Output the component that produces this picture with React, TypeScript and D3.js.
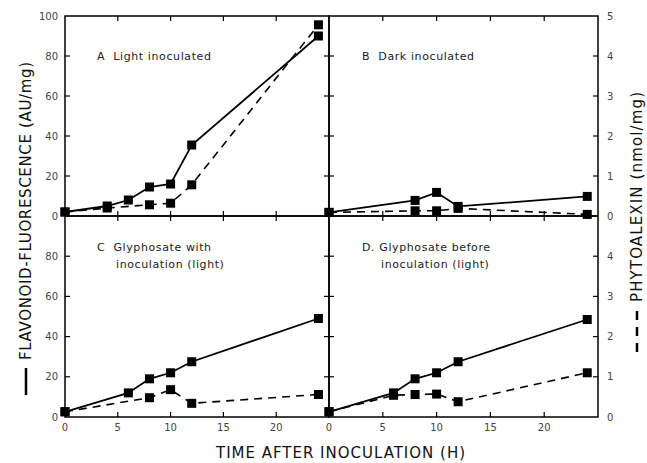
import * as d3 from 'd3';

// hours after inoculation, flavonoid fluorescence (AU/mg), phytoalexin (nmol/mg)
const hoursA = [0, 4, 6, 8, 10, 12, 24];
const flavA = [2, 5, 8, 14.5, 16, 35.5, 90];
const phytoHoursA = [0, 4, 8, 10, 12, 24];
const phytoA = [0.1, 0.2, 0.28, 0.32, 0.78, 4.78];

const hoursB = [0, 8, 10, 12, 24];
const flavB = [1.8, 7.8, 11.8, 4.8, 9.8];
const phytoHoursB = [0, 8, 10, 12, 24];
const phytoB = [0.09, 0.13, 0.13, 0.19, 0.04];

const hoursC = [0, 6, 8, 10, 12, 24];
const flavC = [2.6, 12, 19, 22, 27.5, 49];
const phytoHoursC = [0, 8, 10, 12, 24];
const phytoC = [0.13, 0.48, 0.68, 0.34, 0.56];

const hoursD = [0, 6, 8, 10, 12, 24];
const flavD = [2.6, 12, 19, 22, 27.5, 48.5];
const phytoHoursD = [0, 6, 8, 10, 12, 24];
const phytoD = [0.13, 0.54, 0.56, 0.57, 0.38, 1.1];

const xTicks = [0, 5, 10, 15, 20, 25];
const xTickLabels = ['0', '5', '10', '15', '20'];
const leftTicks = [0, 20, 40, 60, 80, 100];
const rightTicks = [0, 1, 2, 3, 4, 5];

const panels = [
  { id: 'A', col: 0, row: 0, label: ['A  Light inoculated'], h: hoursA, f: flavA, ph: phytoHoursA, p: phytoA },
  { id: 'B', col: 1, row: 0, label: ['B  Dark inoculated'], h: hoursB, f: flavB, ph: phytoHoursB, p: phytoB },
  { id: 'C', col: 0, row: 1, label: ['C  Glyphosate with', 'inoculation (light)'], h: hoursC, f: flavC, ph: phytoHoursC, p: phytoC },
  { id: 'D', col: 1, row: 1, label: ['D. Glyphosate before', 'inoculation (light)'], h: hoursD, f: flavD, ph: phytoHoursD, p: phytoD },
];

const colX = [[65, 329], [329, 598]];
const rowY = [[216, 16], [417, 216]];
const font = '"DejaVu Sans", "Liberation Sans", sans-serif';

function Panel({ panel }) {
  const x = d3.scaleLinear().domain([0, 25]).range(colX[panel.col]);
  const y = d3.scaleLinear().domain([0, 100]).range(rowY[panel.row]);
  const y2 = d3.scaleLinear().domain([0, 5]).range(rowY[panel.row]);
  const solid = d3.line<number>().x((d, i) => x(panel.h[i])).y(d => y(d))(panel.f);
  const dashed = d3.line<number>().x((d, i) => x(panel.ph[i])).y(d => y2(d))(panel.p);
  const [x0, x1] = x.range();
  const [yb, yt] = y.range();
  const tl = 5;
  const isLeft = panel.col === 0;
  const isBottom = panel.row === 1;
  const lx = isLeft ? 97 : 362;
  const ly = panel.row === 0 ? 60 : 251;
  return (
    <g>
      <rect x={x0} y={yt} width={x1 - x0} height={yb - yt} fill="none" stroke="#000" strokeWidth={1.5} />
      {xTicks.slice(1, -1).map(t => (
        <g key={'x' + t}>
          <line x1={x(t)} x2={x(t)} y1={yb} y2={yb - tl} stroke="#000" strokeWidth={1.2} />
          <line x1={x(t)} x2={x(t)} y1={yt} y2={yt + tl} stroke="#000" strokeWidth={1.2} />
        </g>
      ))}
      {leftTicks.slice(1, -1).map(t => (
        <g key={'y' + t}>
          <line x1={x0} x2={x0 + tl} y1={y(t)} y2={y(t)} stroke="#000" strokeWidth={1.2} />
          <line x1={x1} x2={x1 - tl} y1={y(t)} y2={y(t)} stroke="#000" strokeWidth={1.2} />
        </g>
      ))}
      {isBottom &&
        xTickLabels.map((t, i) => (
          <text key={'xl' + t} x={x(xTicks[i])} y={431} textAnchor="middle" fontSize={10} fill="#444" fontFamily={font}>
            {t}
          </text>
        ))}
      {isLeft &&
        leftTicks
          .filter(t => panel.row === 0 || t < 100)
          .map(t => (
            <text key={'yl' + t} x={58} y={y(t) + 3.5} textAnchor="end" fontSize={10} fill="#444" fontFamily={font}>
              {t}
            </text>
          ))}
      {!isLeft &&
        rightTicks
          .filter(t => panel.row === 0 || t < 5)
          .map(t => (
            <text key={'rl' + t} x={607} y={y2(t) + 3.5} textAnchor="start" fontSize={10} fill="#444" fontFamily={font}>
              {t}
            </text>
          ))}
      <path d={dashed} fill="none" stroke="#000" strokeWidth={1.6} strokeDasharray="8,6" />
      <path d={solid} fill="none" stroke="#000" strokeWidth={1.8} />
      {panel.p.map((d, i) => (
        <rect key={'pm' + i} x={x(panel.ph[i]) - 4.5} y={y2(d) - 4.5} width={9} height={9} fill="#000" />
      ))}
      {panel.f.map((d, i) => (
        <rect key={'fm' + i} x={x(panel.h[i]) - 4.5} y={y(d) - 4.5} width={9} height={9} fill="#000" />
      ))}
      {panel.label.map((s, i) => (
        <text key={'lab' + i} x={lx + (i > 0 ? 19 : 0)} y={ly + i * 17} fontSize={11} fill="#222" fontFamily={font} letterSpacing={0.6} style={{ whiteSpace: 'pre' }}>
          {s}
        </text>
      ))}
    </g>
  );
}

export default function App() {
  return (
    <svg width={647} height={463} style={{ position: 'absolute', left: 0, top: 0, background: '#fff' }}>
      {panels.map(p => (
        <Panel key={p.id} panel={p} />
      ))}
      <line x1={26} x2={26} y1={368} y2={395} stroke="#000" strokeWidth={2.5} />
      <text
        transform="translate(31,360) rotate(-90)"
        fontSize={15}
        fontFamily={font}
        fill="#111"
        textLength={298}
        lengthAdjust="spacing"
      >
        FLAVONOID-FLUORESCENCE (AU/mg)
      </text>
      {[0, 1, 2].map(i => (
        <line key={i} x1={637} x2={637} y1={352 - i * 16} y2={343 - i * 16} stroke="#000" strokeWidth={2.5} />
      ))}
      <text
        transform="translate(642,302) rotate(-90)"
        fontSize={15}
        fontFamily={font}
        fill="#111"
        textLength={210}
        lengthAdjust="spacing"
      >
        PHYTOALEXIN (nmol/mg)
      </text>
      <text x={216} y={458} fontSize={15} fontFamily={font} fill="#111" textLength={249} lengthAdjust="spacing">
        TIME AFTER INOCULATION (H)
      </text>
    </svg>
  );
}
